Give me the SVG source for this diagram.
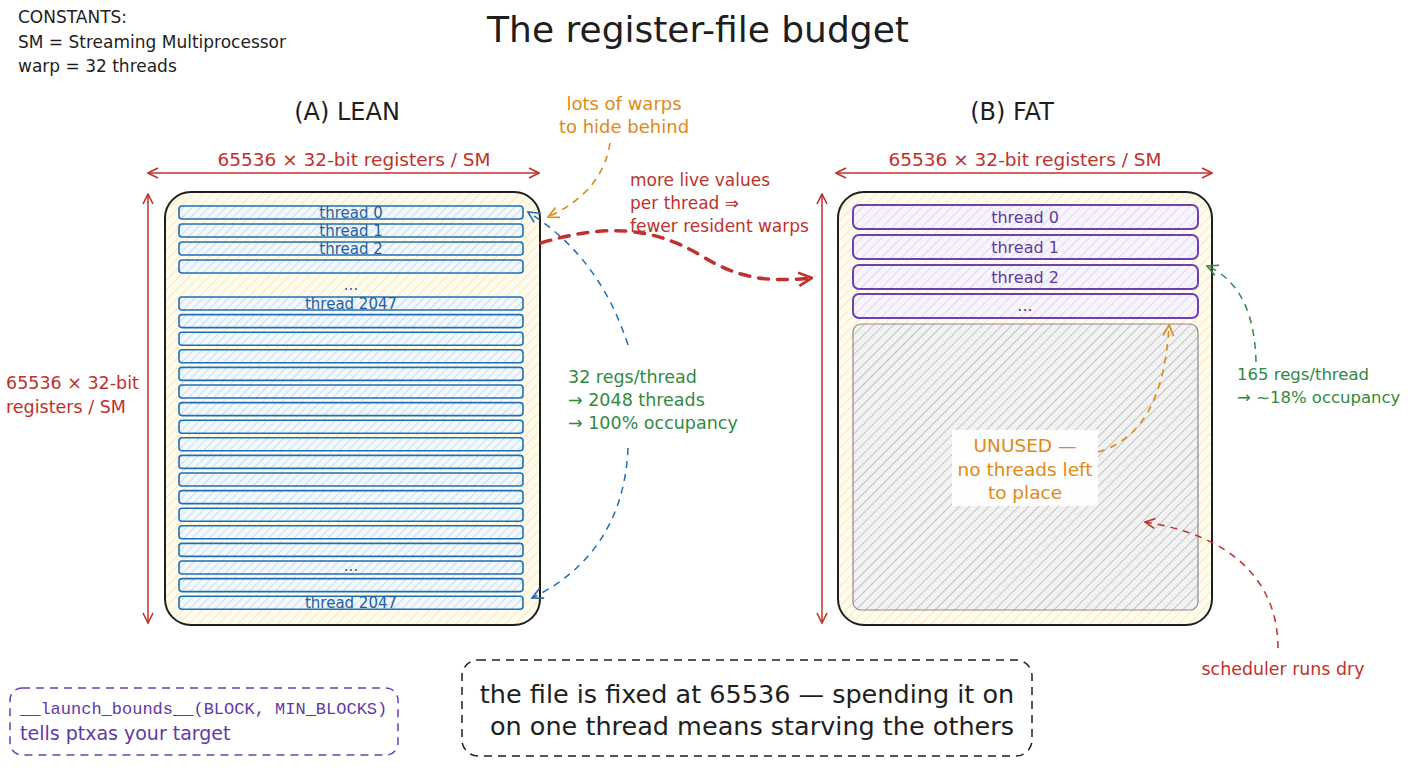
<svg xmlns="http://www.w3.org/2000/svg" width="1408" height="768" viewBox="0 0 1408 768">
<defs>
<pattern id="hy" width="7" height="7" patternUnits="userSpaceOnUse" patternTransform="rotate(45)"><rect width="7" height="7" fill="#fffcef"/><line x1="0" y1="0" x2="0" y2="7" stroke="#f3e3a0" stroke-width="1.4"/></pattern>
<pattern id="hb" width="6" height="6" patternUnits="userSpaceOnUse" patternTransform="rotate(45)"><rect width="6" height="6" fill="#f3f8fc"/><line x1="0" y1="0" x2="0" y2="6" stroke="#a9cbe8" stroke-width="1.2"/></pattern>
<pattern id="hp" width="7" height="7" patternUnits="userSpaceOnUse" patternTransform="rotate(45)"><rect width="7" height="7" fill="#f8f4fc"/><line x1="0" y1="0" x2="0" y2="7" stroke="#d9c8ef" stroke-width="1.3"/></pattern>
<pattern id="hg" width="7" height="7" patternUnits="userSpaceOnUse" patternTransform="rotate(45)"><rect width="7" height="7" fill="#f2f2f2"/><line x1="0" y1="0" x2="0" y2="7" stroke="#a8a8a8" stroke-width="1.3"/></pattern>
<marker id="mr" viewBox="0 0 12 12" refX="11" refY="6" markerWidth="12" markerHeight="12" markerUnits="userSpaceOnUse" orient="auto-start-reverse"><path d="M1,1 L11,6 L1,11" fill="none" stroke="#c0302c" stroke-width="1.6"/></marker>
<marker id="mr2" viewBox="0 0 12 12" refX="11" refY="6" markerWidth="16" markerHeight="16" markerUnits="userSpaceOnUse" orient="auto"><path d="M1,1 L11,6 L1,11" fill="none" stroke="#c0302c" stroke-width="2"/></marker>
<marker id="mb" viewBox="0 0 12 12" refX="11" refY="6" markerWidth="13" markerHeight="13" markerUnits="userSpaceOnUse" orient="auto"><path d="M1,1 L11,6 L1,11" fill="none" stroke="#1f6fb8" stroke-width="1.5"/></marker>
<marker id="mg" viewBox="0 0 12 12" refX="11" refY="6" markerWidth="13" markerHeight="13" markerUnits="userSpaceOnUse" orient="auto"><path d="M1,1 L11,6 L1,11" fill="none" stroke="#2f8a3e" stroke-width="1.5"/></marker>
<marker id="mo" viewBox="0 0 12 12" refX="11" refY="6" markerWidth="13" markerHeight="13" markerUnits="userSpaceOnUse" orient="auto"><path d="M1,1 L11,6 L1,11" fill="none" stroke="#e08a14" stroke-width="1.5"/></marker>
</defs>
<style>
text{font-family:"DejaVu Sans","Liberation Sans",sans-serif}
.mono{font-family:"Liberation Mono","DejaVu Sans Mono",monospace}
.k{fill:#1e1e1e}
.r{fill:#c0302c}
.g{fill:#2f8a3e}
.o{fill:#e08a14}
.b{fill:#1f5fa0}
.p{fill:#5f3aa6}
.box{stroke:#1e1e1e;stroke-width:2;fill:url(#hy)}
.lr{fill:url(#hb);stroke:#1f6fb8;stroke-width:1.6}
.fr{fill:url(#hp);stroke:#6c3fb5;stroke-width:2}
.dim{stroke:#c0302c;stroke-width:1.5;fill:none}
.c{fill:none}
</style>
<rect width="1408" height="768" fill="#ffffff"/>

<g id="title"><text x="698" y="42" font-size="36" text-anchor="middle" class="k">The register-file budget</text></g>
<g id="constants" font-size="17">
<text x="18" y="23" class="k">CONSTANTS:</text>
<text x="18" y="48" class="k">SM = Streaming Multiprocessor</text>
<text x="18" y="72" class="k">warp = 32 threads</text>
</g>

<g id="headA"><text x="347" y="120" font-size="24" text-anchor="middle" class="k">(A) LEAN</text></g>
<g id="headB"><text x="1012" y="120" font-size="24" text-anchor="middle" class="k">(B) FAT</text></g>

<g id="lean">
<rect x="165" y="192" width="375" height="433" rx="26" class="box"/>
<g font-size="15" text-anchor="middle">
<rect x="179" y="206" width="344" height="13" rx="3" class="lr"/><text x="351" y="218" class="b">thread 0</text>
<rect x="179" y="224" width="344" height="13" rx="3" class="lr"/><text x="351" y="236" class="b">thread 1</text>
<rect x="179" y="242" width="344" height="13" rx="3" class="lr"/><text x="351" y="254" class="b">thread 2</text>
<rect x="179" y="260" width="344" height="13" rx="3" class="lr"/>
<text x="351" y="290" class="b">...</text>
<rect x="179" y="297" width="344" height="13" rx="3" class="lr"/><text x="351" y="309" class="b">thread 2047</text>
<rect x="179" y="314.6" width="344" height="13" rx="3" class="lr"/>
<rect x="179" y="332.2" width="344" height="13" rx="3" class="lr"/>
<rect x="179" y="349.8" width="344" height="13" rx="3" class="lr"/>
<rect x="179" y="367.4" width="344" height="13" rx="3" class="lr"/>
<rect x="179" y="385" width="344" height="13" rx="3" class="lr"/>
<rect x="179" y="402.6" width="344" height="13" rx="3" class="lr"/>
<rect x="179" y="420.2" width="344" height="13" rx="3" class="lr"/>
<rect x="179" y="437.8" width="344" height="13" rx="3" class="lr"/>
<rect x="179" y="455.4" width="344" height="13" rx="3" class="lr"/>
<rect x="179" y="473" width="344" height="13" rx="3" class="lr"/>
<rect x="179" y="490.6" width="344" height="13" rx="3" class="lr"/>
<rect x="179" y="508.2" width="344" height="13" rx="3" class="lr"/>
<rect x="179" y="525.8" width="344" height="13" rx="3" class="lr"/>
<rect x="179" y="543.4" width="344" height="13" rx="3" class="lr"/>
<rect x="179" y="561" width="344" height="13" rx="3" class="lr"/><text x="351" y="571" class="b">...</text>
<rect x="179" y="578.6" width="344" height="13" rx="3" class="lr"/>
<rect x="179" y="596.2" width="344" height="13" rx="3" class="lr"/><text x="351" y="608" class="b">thread 2047</text>
</g>
</g>

<g id="fat">
<rect x="838" y="192" width="374" height="433" rx="26" class="box"/>
<g font-size="16" text-anchor="middle">
<rect x="853" y="205" width="345" height="24" rx="6" class="fr"/><text x="1025" y="223" class="p">thread 0</text>
<rect x="853" y="235" width="345" height="24" rx="6" class="fr"/><text x="1025" y="253" class="p">thread 1</text>
<rect x="853" y="265" width="345" height="24" rx="6" class="fr"/><text x="1025" y="283" class="p">thread 2</text>
<rect x="853" y="294" width="345" height="24" rx="6" class="fr"/><text x="1025" y="311" class="p">...</text>
</g>
<rect x="853" y="324" width="345" height="286" rx="8" fill="url(#hg)" stroke="#8a8a8a" stroke-width="1.2"/>
</g>

<g id="unused">
<rect x="952" y="430" width="146" height="76" fill="#ffffff" fill-opacity="0.92"/>
<g font-size="18.5" text-anchor="middle" class="o">
<text x="1025" y="452">UNUSED —</text>
<text x="1025" y="476">no threads left</text>
<text x="1025" y="499">to place</text>
</g>
</g>

<g id="labels">
<text x="354" y="166" font-size="18.5" text-anchor="middle" class="r">65536 × 32-bit registers / SM</text>
<text x="1025" y="166" font-size="18.5" text-anchor="middle" class="r">65536 × 32-bit registers / SM</text>
<text x="6" y="389" font-size="17.5" class="r">65536 × 32-bit</text>
<text x="6" y="413" font-size="17.5" class="r">registers / SM</text>
<g font-size="18" class="o" text-anchor="middle">
<text x="624" y="110">lots of warps</text>
<text x="624" y="133">to hide behind</text>
</g>
<g font-size="17" class="r">
<text x="630" y="186">more live values</text>
<text x="630" y="209">per thread ⇒</text>
<text x="630" y="232">fewer resident warps</text>
</g>
<g font-size="17.5" class="g">
<text x="568" y="383">32 regs/thread</text>
<text x="568" y="406">→ 2048 threads</text>
<text x="568" y="429">→ 100% occupancy</text>
</g>
<g font-size="16.5" class="g">
<text x="1237" y="380">165 regs/thread</text>
<text x="1237" y="403">→ ~18% occupancy</text>
</g>
<text x="1283" y="675" font-size="17.4" text-anchor="middle" class="r">scheduler runs dry</text>
</g>

<g id="connectors">
<line x1="148" y1="173" x2="539" y2="173" class="dim" marker-start="url(#mr)" marker-end="url(#mr)"/>
<line x1="836" y1="173" x2="1212" y2="173" class="dim" marker-start="url(#mr)" marker-end="url(#mr)"/>
<line x1="148" y1="194" x2="148" y2="623" class="dim" marker-start="url(#mr)" marker-end="url(#mr)"/>
<line x1="822" y1="194" x2="822" y2="623" class="dim" marker-start="url(#mr)" marker-end="url(#mr)"/>
<path d="M541,243 C600,225 650,225 700,255 C740,280 770,282 812,278" stroke="#c0302c" stroke-width="3.5" stroke-dasharray="10 9" stroke-linecap="round" class="c" marker-end="url(#mr2)"/>
<path d="M610,143 C605,175 585,200 548,217" stroke="#e08a14" stroke-width="1.6" stroke-dasharray="7 6" class="c" marker-end="url(#mo)"/>
<path d="M628,345 C610,290 580,245 528,212" stroke="#1f6fb8" stroke-width="1.5" stroke-dasharray="7 6" class="c" marker-end="url(#mb)"/>
<path d="M628,448 C625,520 590,570 532,598" stroke="#1f6fb8" stroke-width="1.5" stroke-dasharray="7 6" class="c" marker-end="url(#mb)"/>
<path d="M1256,362 C1255,315 1240,280 1207,266" stroke="#2f8a3e" stroke-width="1.5" stroke-dasharray="7 6" class="c" marker-end="url(#mg)"/>
<path d="M1098,452 C1140,440 1165,400 1169,325" stroke="#e08a14" stroke-width="1.6" stroke-dasharray="7 6" class="c" marker-end="url(#mo)"/>
<path d="M1278,648 C1278,580 1230,535 1145,522" stroke="#c0302c" stroke-width="1.5" stroke-dasharray="7 6" class="c" marker-end="url(#mr)"/>
</g>

<g id="launch">
<rect x="10" y="688" width="388" height="67" rx="12" fill="none" stroke="#6c3fb5" stroke-width="1.5" stroke-dasharray="8 6"/>
<text x="20" y="714" font-size="17" class="p mono">__launch_bounds__(BLOCK, MIN_BLOCKS)</text>
<text x="20" y="740" font-size="19" class="p">tells ptxas your target</text>
</g>

<g id="note">
<rect x="462" y="660" width="570" height="96" rx="16" fill="none" stroke="#1e1e1e" stroke-width="1.5" stroke-dasharray="8 6"/>
<text x="747" y="703" font-size="25.5" text-anchor="middle" class="k">the file is fixed at 65536 — spending it on</text>
<text x="752" y="735" font-size="25.5" text-anchor="middle" class="k">on one thread means starving the others</text>
</g>
</svg>
